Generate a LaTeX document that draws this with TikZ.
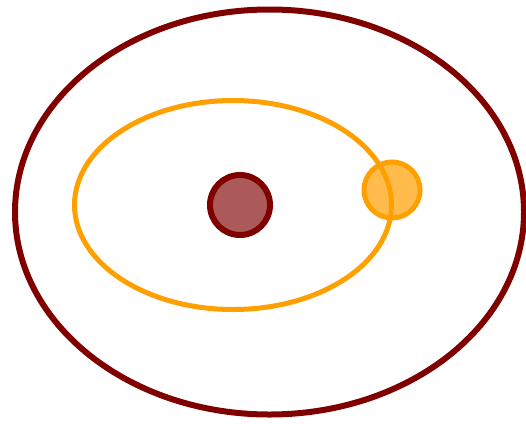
\documentclass[tikz,border=0pt]{standalone}
\definecolor{dred}{HTML}{800000}
\definecolor{orng}{HTML}{FFA000}
\tikzset{
  orbitred/.style={draw=dred, line width=6pt},
  orbitorange/.style={draw=orng, line width=5pt},
  sun/.style={circle, draw=dred, line width=6pt, fill=dred, fill opacity=0.65, draw opacity=1, minimum size=60pt, inner sep=0pt},
  planet/.style={circle, draw=orng, line width=5pt, fill=orng, fill opacity=0.7, draw opacity=1, minimum size=56pt, inner sep=0pt}
}
\begin{document}
\begin{tikzpicture}[x=1pt,y=-1pt]
\useasboundingbox (0,0) rectangle (526,423);
\draw[orbitred] (269.5,212) ellipse [x radius=254.5, y radius=202.5];
\node[sun] (s) at (240,205) {};
\node[planet] (p) at (392,190) {};
\draw[orbitorange] (233,205) ellipse [x radius=158.5, y radius=104.5];
\end{tikzpicture}
\end{document}
